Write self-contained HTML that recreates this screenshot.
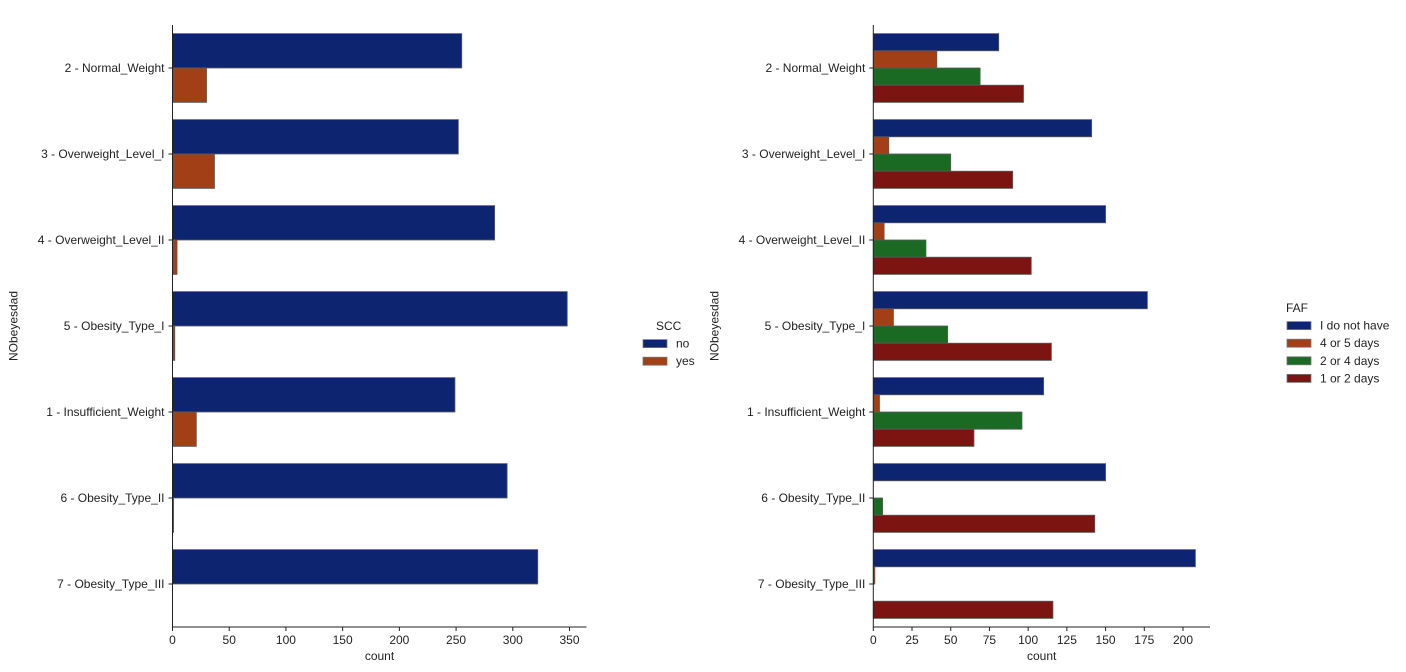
<!DOCTYPE html>
<html><head><meta charset="utf-8"><style>
body{margin:0;background:#fff;width:1406px;height:667px;overflow:hidden}
svg{font-family:"Liberation Sans","DejaVu Sans",sans-serif}
</style></head><body>
<svg id="c" width="1406" height="667"></svg>
<script>
const categories=["2 - Normal_Weight","3 - Overweight_Level_I","4 - Overweight_Level_II","5 - Obesity_Type_I","1 - Insufficient_Weight","6 - Obesity_Type_II","7 - Obesity_Type_III"];
const sccLabels=["no","yes"];
const sccNo=[255,252,284,348,249,295,322];
const sccYes=[30,37,4,2,21,1,0];
const leftTicks=[0,50,100,150,200,250,300,350];
const fafLabels=["I do not have","4 or 5 days","2 or 4 days","1 or 2 days"];
const fafNone=[81,141,150,177,110,150,208];
const faf45=[41,10,7,13,4,0,1];
const faf24=[69,50,34,48,96,6,0];
const faf12=[97,90,102,115,65,143,116];
const rightTicks=[0,25,50,75,100,125,150,175,200];
const colors=["#0d2571","#a23f17","#1b6a23","#7c1511"];
const NS="http://www.w3.org/2000/svg";
const svg=document.getElementById('c');
function mk(t,a,p){const e=document.createElementNS(NS,t);for(const k in a)e.setAttribute(k,a[k]);(p||svg).appendChild(e);return e;}
function panel(name,x0,x1,xmax,ext,yTop,yBot,series,ticks,legTitle,legLabels,legX,legY,titleX,titleAnchor){
  const g=mk('g',{});
  
  
  const sx=v=>x0+(v/xmax)*(x1-x0);
  const band=(yBot-yTop)/categories.length;
  const bw=band*0.8/series.length;
  categories.forEach((c,i)=>{
    const y0=yTop+band*i+band*0.1;
    series.forEach((s,j)=>{
      const r=mk('rect',{x:sx(0),y:y0+bw*j,width:Math.max(0,sx(s[i])-sx(0)),height:bw,fill:colors[j],stroke:'#5a5a5a','stroke-width':0.8},g);
      
      
    });
    const t=mk('text',{x:x0-8,y:yTop+band*(i+0.5)+4,'text-anchor':'end','font-size':12,fill:'#222'},g);
    t.textContent=c;
    
    
    mk('line',{x1:x0-4,x2:x0,y1:yTop+band*(i+0.5),y2:yTop+band*(i+0.5),stroke:'#222'},g);
  });
  mk('line',{x1:x0,x2:x0,y1:yTop,y2:yBot,stroke:'#222','stroke-width':1},g);
  mk('line',{x1:x0,x2:x1+ext,y1:yBot,y2:yBot,stroke:'#222','stroke-width':1},g);
  ticks.forEach(v=>{
    mk('line',{x1:sx(v),x2:sx(v),y1:yBot,y2:yBot+4,stroke:'#222'},g);
    const t=mk('text',{x:sx(v),y:yBot+17,'text-anchor':'middle','font-size':12,fill:'#222'},g);
    t.textContent=v;
    
    
  });
  const xl=mk('text',{x:(x0+x1+ext)/2,y:yBot+33,'text-anchor':'middle','font-size':12,fill:'#222'},g);
  xl.textContent='count';
  
  
  const yl=mk('text',{x:0,y:0,'text-anchor':'middle','font-size':12,fill:'#222',transform:`translate(${x0-155},${(yTop+yBot)/2}) rotate(-90)`},g);
  yl.textContent='NObeyesdad';
  
  
  const lg=mk('g',{},g);
  
  
  const lt=mk('text',{x:titleX,y:legY,'text-anchor':titleAnchor,'font-size':12,fill:'#222'},lg);
  lt.textContent=legTitle;
  
  
  legLabels.forEach((l,j)=>{
    const yy=legY+17.6*(j+1);
    mk('rect',{x:legX,y:yy-8,width:24,height:8,fill:colors[j],stroke:'#777','stroke-width':0.8},lg);
    const t=mk('text',{x:legX+33,y:yy,'font-size':12,fill:'#222'},lg);
    t.textContent=l;
    
    
  });
}
panel('left-chart-scc',172.5,569.5,350,17,25,627,[sccNo,sccYes],leftTicks,'SCC',sccLabels,643,330,656,'start');
panel('right-chart-faf',873.3,1183,200,27,25,627,[fafNone,faf45,faf24,faf12],rightTicks,'FAF',fafLabels,1287,312,1297,'middle');
</script>
</body></html>
